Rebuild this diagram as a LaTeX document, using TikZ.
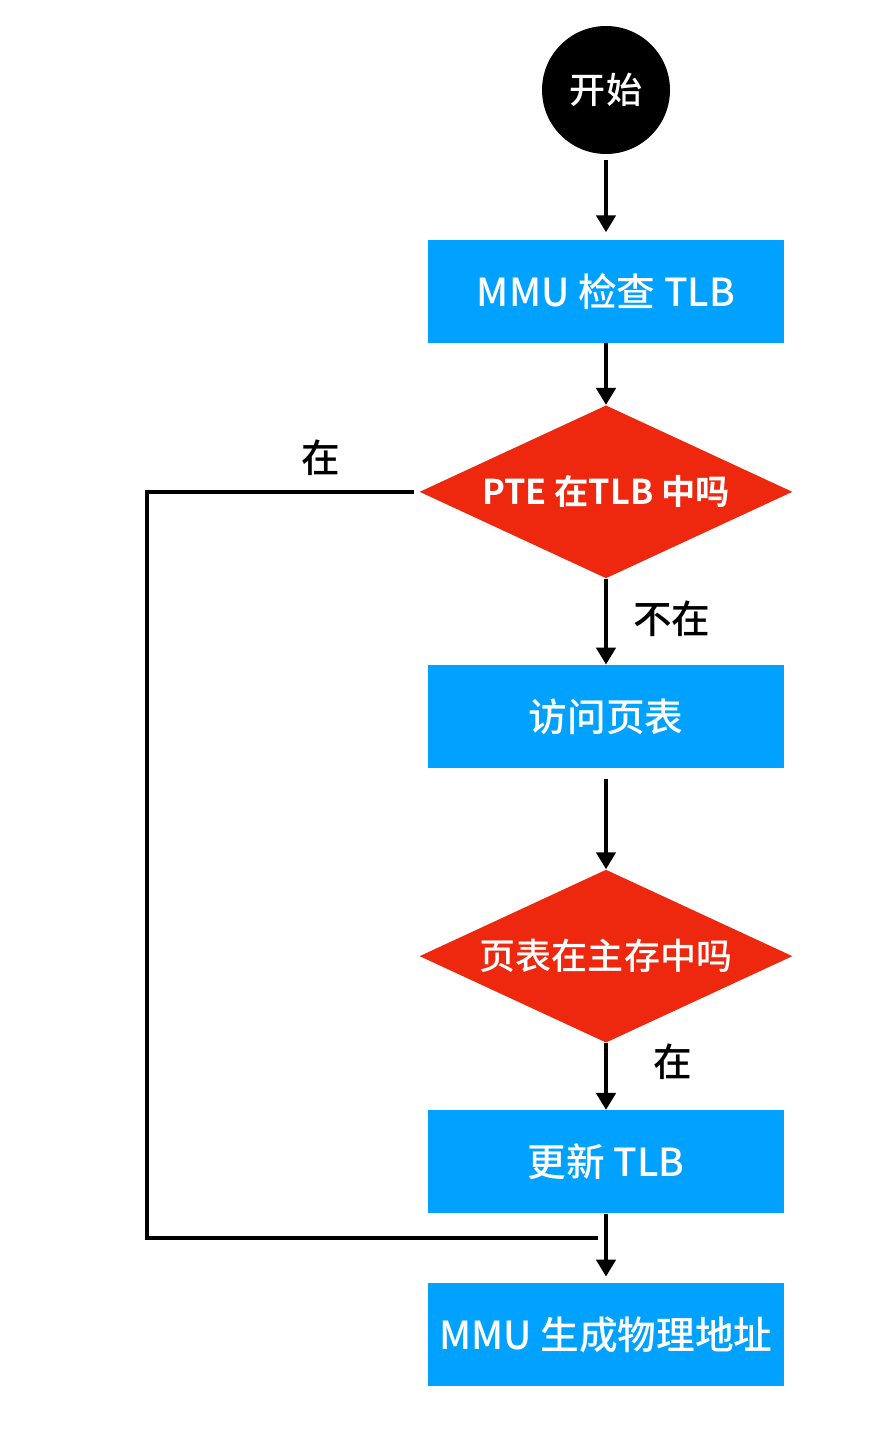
\documentclass[tikz,border=0pt]{standalone}
\usepackage{fontspec}
\setmainfont{Noto Sans CJK SC}[UprightFont=* Medium, BoldFont=* Bold]
\usepackage{xcolor}
\usepackage{tikz}
\usetikzlibrary{shapes.geometric, arrows.meta, positioning}
\definecolor{boxblue}{RGB}{0,161,255}
\definecolor{decred}{RGB}{238,40,14}

\begin{document}
\begin{tikzpicture}[x=0.02cm, y=-0.02cm, node distance=1.7cm]
    % 样式
    \tikzstyle{startstop} = [circle, minimum size=2.56cm, inner sep=0, fill=black, text=white, font=\fontsize{20.5}{22}\selectfont]
    \tikzstyle{process} = [rectangle, minimum width=7.14cm, minimum height=2.06cm, text centered, fill=boxblue, text=white, font=\fontsize{22}{26}\selectfont]
    \tikzstyle{decision} = [diamond, aspect=2.16, minimum width=7.46cm, minimum height=3.46cm, inner sep=0, text centered, fill=decred, text=white]
    \tikzstyle{arrow} = [line width=2.4pt, -{Triangle[width=0.38cm, length=0.34cm]}]
    \tikzstyle{line} = [line width=2.4pt]
    \tikzstyle{answer} = [inner sep=0, text=black, font=\fontsize{22}{26}\selectfont]

    \useasboundingbox (0,0) rectangle (870,1436);

    % 节点
    \node (start) [startstop] at (606,90) {开始};
    \node (check) [process, below=1.7cm of start] {MMU 检查 TLB};
    \node (inTLB) [decision, below=1.24cm of check, font=\fontsize{19.5}{22}\selectfont\bfseries] {PTE 在TLB 中吗};
    \node (walk) [process, below=1.72cm of inTLB] {访问页表};
    \node (inMem) [decision, below=2.02cm of walk, font=\fontsize{20.5}{24}\selectfont] {页表在主存中吗};
    \node (update) [process, below=1.34cm of inMem] {更新 TLB};
    \node (phys) [process, below=1.38cm of update] {MMU 生成物理地址};
    \coordinate (join) at ([yshift=-0.48cm]update.south);

    % 连线
    \draw [arrow, shorten <=0.12cm, shorten >=0.14cm] (start) -- (check);
    \draw [arrow] (check) -- (inTLB);
    \draw [arrow] (inTLB) -- node[answer, right, xshift=0.5cm, yshift=0.06cm] {不在} (walk);
    \draw [arrow, shorten <=0.22cm] (walk) -- (inMem);
    \draw [arrow] (inMem) -- node[answer, pos=0.28, right, xshift=0.9cm] {在} (update);
    \draw [arrow, shorten >=0.12cm] (update) -- (phys);
    \draw [line] ([xshift=-0.1cm]inTLB.west) -- node[answer, pos=0.35, yshift=0.68cm] {在} ++(-267,0) |- ([xshift=-0.16cm]join);
\end{tikzpicture}
\end{document}
